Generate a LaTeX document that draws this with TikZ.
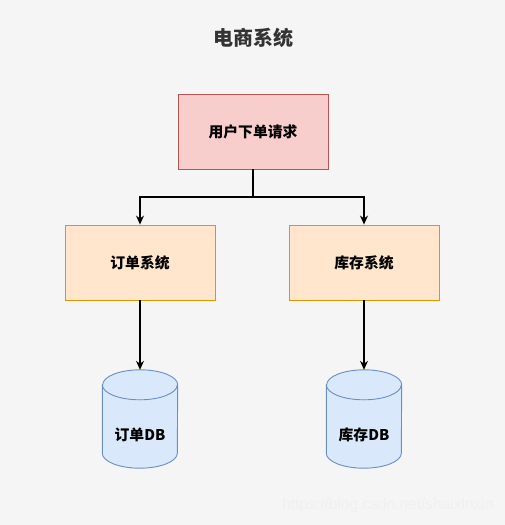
\documentclass[tikz,border=0pt]{standalone}
\usepackage{fontspec}
\newfontfamily\cjk{Noto Sans CJK SC}
\newfontfamily\wmfont{Liberation Sans}
\usetikzlibrary{arrows.meta}
\definecolor{bgc}{HTML}{F5F5F5}
\definecolor{redfill}{HTML}{F8CECC}
\definecolor{redline}{HTML}{B85450}
\definecolor{orfill}{HTML}{FFE6CC}
\definecolor{orline}{HTML}{D79B00}
\definecolor{bluefill}{HTML}{DAE8FC}
\definecolor{blueline}{HTML}{6C8EBF}
\definecolor{titlec}{HTML}{333333}
\tikzset{
  x=1pt, y=1pt,
  boxbase/.style={rectangle, minimum width=150pt, minimum height=75pt, line width=0.9pt, font=\cjk\bfseries\fontsize{14.8}{16}\selectfont, inner sep=0pt},
  reqbox/.style={boxbase, fill=redfill, draw=redline},
  sysbox/.style={boxbase, fill=orfill, draw=orline},
  dbarea/.style={rectangle, minimum width=75pt, minimum height=98pt, inner sep=0pt},
  dbline/.style={fill=bluefill, draw=blueline, line width=0.9pt},
  dbtext/.style={font=\cjk\bfseries\fontsize{14.8}{16}\selectfont, inner sep=0pt},
  conn/.style={line width=1.2pt, -{Stealth[length=9pt,width=8pt]}},
  titletext/.style={font=\cjk\bfseries\fontsize{20}{22}\selectfont, text=titlec},
  wm/.style={font=\wmfont\fontsize{15.5}{17}\selectfont, text=white!88!gray}
}
\begin{document}
\begin{tikzpicture}
\fill[bgc] (0,0) rectangle (505,-525);
\useasboundingbox (0,0) rectangle (505,-525);

\node[titletext] (title) at (253,-38) {电商系统};
\node[reqbox] (req) at (253,-131.5) {用户下单请求};
\node[sysbox] (order) at (140,-262.5) {订单系统};
\node[sysbox] (stock) at (364,-262.5) {库存系统};
\node[dbarea] (db1) at (140,-419) {};
\node[dbarea] (db2) at (364,-419) {};

\foreach \d in {db1,db2}{
  \draw[dbline] ([yshift=-15pt]\d.north west) -- ([yshift=15pt]\d.south west)
     arc[start angle=180,end angle=360,x radius=37.5pt,y radius=15pt]
     -- ([yshift=-15pt]\d.north east)
     arc[start angle=0,end angle=180,x radius=37.5pt,y radius=15pt] -- cycle;
  \draw[blueline, line width=0.9pt] ([yshift=-15pt]\d.north west)
     arc[start angle=180,end angle=360,x radius=37.5pt,y radius=15pt];
}
\node[dbtext] (db1t) at ([yshift=-16pt]db1.center) {订单DB};
\node[dbtext] (db2t) at ([yshift=-16pt]db2.center) {库存DB};

\coordinate (split) at (253,-197);
\draw[conn] (req.south) -- (split) -| (order.north);
\draw[conn] (split) -| (stock.north);
\draw[conn] (order.south) -- (db1.north);
\draw[conn] (stock.south) -- (db2.north);

\node[wm, anchor=east] (wmark) at (497,-505) {https://blog.csdn.net/shaixinxin};
\end{tikzpicture}
\end{document}
